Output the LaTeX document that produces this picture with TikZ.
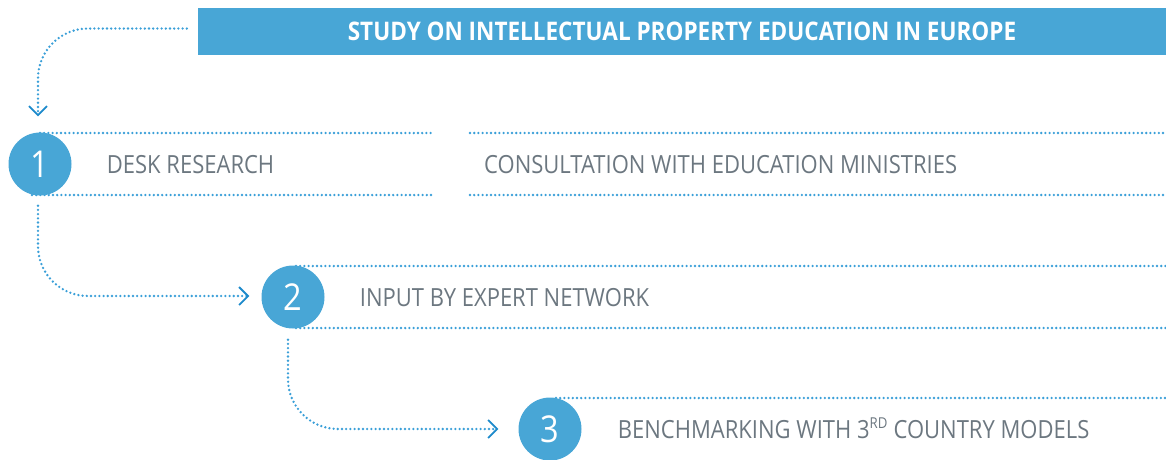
\documentclass[tikz,border=0pt]{standalone}
\usepackage{fontspec}
\setmainfont[FakeStretch=0.88]{Open Sans}
\usetikzlibrary{arrows.meta, positioning}

\definecolor{ipblue}{HTML}{48A6D6}
\definecolor{ipdots}{HTML}{3A9FD8}
\definecolor{iptip}{HTML}{1D8ACB}
\definecolor{iptext}{HTML}{6C7780}

\begin{document}
\begin{tikzpicture}[
  x=1pt, y=-1pt,
  titlebar/.style={fill=ipblue, minimum width=968pt, minimum height=47pt, inner sep=0pt, text=white, font=\fontsize{25.6}{26}\selectfont\bfseries},
  num/.style={circle, fill=ipblue, minimum size=63pt, inner sep=0pt, text=white, font=\fontsize{37}{37}\selectfont},
  stage/.style={inner sep=0pt, text height=18pt, text depth=0pt, text=iptext, font=\fontsize{25}{25}\selectfont},
  dots/.style={ipdots, line width=2.6pt, line cap=round, dash pattern=on 0pt off 4.2pt},
  arr/.style={dots, -{Straight Barb[length=9pt, width=18pt, line width=1.8pt, color=iptip]}}
]
\useasboundingbox (0,0) rectangle (1166,459);

% right edge and gap in the first row
\coordinate (edge) at (1166,0);
\coordinate (gapl) at (433,0);
\coordinate (gapr) at (470,0);

% rows of dotted rules
\draw[dots] (40,133) -- (gapl |- 0,133);
\draw[dots] (32,195) -- (gapl |- 0,195);
\draw[dots] (gapr |- 0,133) -- (edge |- 0,133);
\draw[dots] (gapr |- 0,195) -- (edge |- 0,195);
\draw[dots] (296,266) -- (edge |- 0,266);
\draw[dots] (296,328) -- (edge |- 0,328);
\draw[dots] (556,398) -- (edge |- 0,398);

\node[titlebar] (title) at (682,31.5) {STUDY ON INTELLECTUAL PROPERTY EDUCATION IN EUROPE};

\node[num] (num1) at (40,164) {1};
\node[num] (num2) at (293,297) {2};
\node[num] (num3) at (550,429) {3};

\node[stage, right=35pt of num1] (desk) {DESK RESEARCH};
\node[stage, anchor=west] (consult) at (484,164) {CONSULTATION WITH EDUCATION MINISTRIES};
\node[stage, right=35pt of num2] (expert) {INPUT BY EXPERT NETWORK};
\node[stage, right=36pt of num3] (bench) {BENCHMARKING WITH 3\textsuperscript{\fontsize{15}{15}\selectfont RD} COUNTRY MODELS};

% flow between the steps
\draw[arr, rounded corners=50pt, shorten >=16pt] ([xshift=-11pt, yshift=3pt]title.west) -| ([xshift=-2pt]num1.north);
\draw[arr, rounded corners=50pt, shorten >=12pt] ([xshift=-2pt, yshift=-10pt]num1.south) |- ([yshift=1pt]num2.west);
\draw[arr, rounded corners=50pt, shorten >=20pt] ([xshift=-5pt, yshift=-11pt]num2.south) |- (num3.west);

\end{tikzpicture}
\end{document}
